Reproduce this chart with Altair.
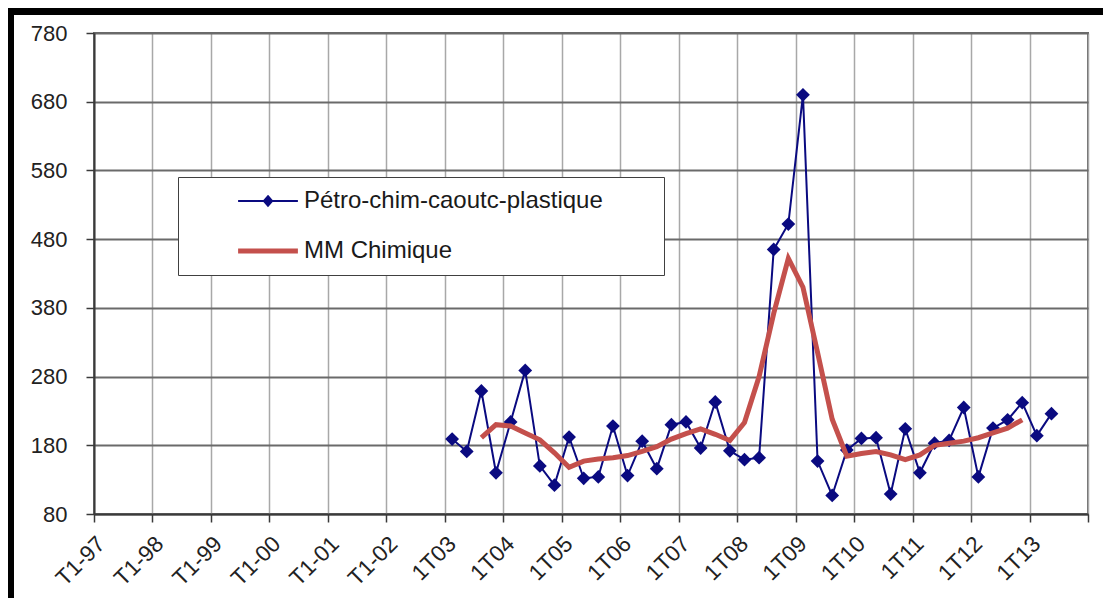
import altair as alt
import pandas as pd

# ---------------- data ----------------
year_labels = ["T1-97", "T1-98", "T1-99", "T1-00", "T1-01", "T1-02", "1T03", "1T04",
               "1T05", "1T06", "1T07", "1T08", "1T09", "1T10", "1T11", "1T12", "1T13"]
y_ticks = [80, 180, 280, 380, 480, 580, 680, 780]
series_names = ["Pétro-chim-caoutc-plastique", "MM Chimique"]
series_colors = ["#0A0A80", "#C4504C"]

# quarterly values, first one is 1T03 (quarter index 24 from T1-97)
petro_start = 24
petro_values = [189, 171, 259, 140, 214, 289, 150, 122, 192, 132, 134, 208,
                136, 186, 146, 210, 214, 176, 243, 172, 159, 162, 465, 502,
                690, 157, 107, 173, 190, 191, 109, 204, 140, 183, 187, 235,
                134, 205, 217, 242, 194, 226]

# moving average, first one is 3T03 (quarter index 26)
mm_start = 26
mm_values = [191, 210, 208, 198, 188, 169, 148, 157, 160, 162, 165, 171,
             178, 189, 197, 204, 196, 187, 213, 280, 372, 452, 410, 315,
             218, 164, 168, 171, 166, 159, 166, 180, 183, 186, 191, 198,
             205, 217]

n_quarters = 4 * len(year_labels)  # 68

rows = []
for i, v in enumerate(petro_values):
    rows.append({"series": series_names[0], "q": petro_start + i + 0.5, "value": v})
for i, v in enumerate(mm_values):
    rows.append({"series": series_names[1], "q": mm_start + i + 0.5, "value": v})
df = pd.DataFrame(rows)
petro_df = df[df.series == series_names[0]]
mm_df = df[df.series == series_names[1]]

FONT = "Liberation Sans"
W, H = 994, 481
PAD = {"left": 86, "top": 25, "right": 15, "bottom": 84}

label_list = "[" + ",".join("'" + s + "'" for s in year_labels) + "]"
x_label_expr = f"datum.value < {n_quarters} ? {label_list}[round(datum.value/4)] : ''"

x_enc = alt.X(
    "q:Q",
    scale=alt.Scale(domain=[0, n_quarters], nice=False, zero=False),
    axis=alt.Axis(
        values=list(range(0, n_quarters + 1, 4)),
        labelExpr=x_label_expr,
        title=None,
        labelAngle=315,
        labelAlign="right",
        labelBaseline="middle",
        labelPadding=18,
        labelOffset=7,
        labelFont=FONT,
        labelFontSize=22.5,
        labelColor="#222222",
        labelOverlap=False,
        domainColor="#3a3a3a",
        domainWidth=2,
        tickColor="#3a3a3a",
        tickWidth=1.5,
        tickSize=8,
        grid=True,
        gridColor="#a8a8a8",
        gridWidth=1.5,
    ),
)
y_enc = alt.Y(
    "value:Q",
    scale=alt.Scale(domain=[80, 780], nice=False, zero=False),
    axis=alt.Axis(
        values=y_ticks,
        title=None,
        labelFont=FONT,
        labelFontSize=22,
        labelColor="#222222",
        labelPadding=19,
        domainColor="#3a3a3a",
        domainWidth=2,
        tickColor="#3a3a3a",
        tickWidth=1.5,
        tickSize=8,
        grid=True,
        gridColor="#6a6a6a",
        gridWidth=2,
    ),
)

# legend symbols: a 60px line (with a diamond for the first series); the
# trailing lone move-to only widens the legend box, it draws nothing
is_mm = "datum.value === 'MM Chimique'"
path_line = "M-2.6,0L2.6,0M32.5,0"
path_diamond = "M-2.6,0L2.6,0M0,-0.42L0.36,0L0,0.42L-0.36,0ZM32.5,0"
legend = alt.Legend(
    title=None,
    orient="none",
    legendX=84,
    legendY=144,
    direction="vertical",
    fillColor="white",
    strokeColor="#404040",
    padding=12,
    symbolOffset=66,
    symbolSize=529,
    rowPadding=26,
    labelOffset=24,
    labelFont=FONT,
    labelFontSize=24,
    labelColor="#1a1a1a",
    labelLimit=700,
    symbolType=alt.ExprRef(expr=f"{is_mm} ? '{path_line}' : '{path_diamond}'"),
    symbolStrokeWidth=alt.ExprRef(expr=f"{is_mm} ? 5 : 2"),
    symbolFillColor=alt.ExprRef(expr=f"{is_mm} ? 'transparent' : '#0A0A80'"),
    symbolOpacity=1,
)
color_enc = alt.Color(
    "series:N",
    scale=alt.Scale(domain=series_names, range=series_colors),
    legend=legend,
)

frame_df = pd.DataFrame({"k": [0]})
top_band = alt.Chart(frame_df).mark_rect(color="black").encode(
    x=alt.value(-PAD["left"]), x2=alt.value(W + PAD["right"]),
    y=alt.value(-PAD["top"]), y2=alt.value(-PAD["top"] + 7),
)
left_band = alt.Chart(frame_df).mark_rect(color="black").encode(
    x=alt.value(-PAD["left"]), x2=alt.value(-PAD["left"] + 6),
    y=alt.value(-PAD["top"]), y2=alt.value(H + PAD["bottom"]),
)

blue_line = alt.Chart(petro_df).mark_line(strokeWidth=2).encode(
    x=x_enc, y=y_enc, color=color_enc
)
blue_pts = alt.Chart(petro_df).mark_point(shape="diamond", filled=True, size=190, opacity=1).encode(
    x=x_enc, y=y_enc, color=color_enc
)
red_line = alt.Chart(mm_df).mark_line(strokeWidth=5).encode(
    x=x_enc, y=y_enc, color=color_enc
)

chart = alt.layer(top_band, left_band, blue_line, blue_pts, red_line).properties(
    width=W,
    height=H,
    padding=PAD,
    autosize=alt.AutoSizeParams(type="none"),
    background="white",
).configure_view(stroke="#6a6a6a", strokeWidth=2)

chart.save("out.html", embed_options={"renderer": "svg", "actions": False})
